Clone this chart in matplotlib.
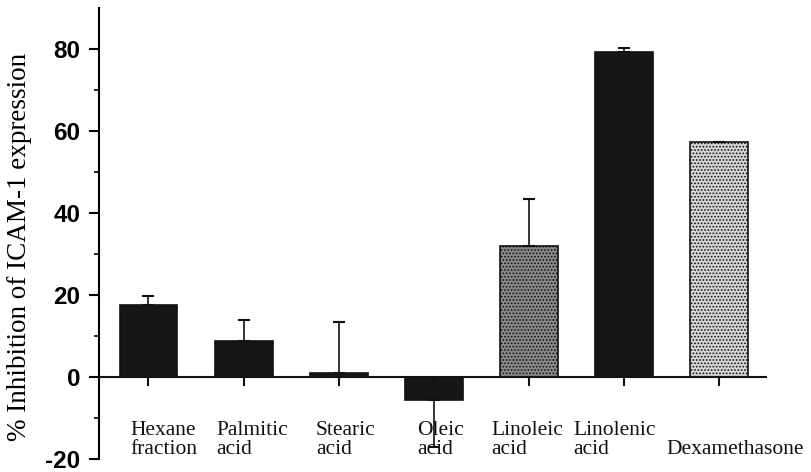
import matplotlib
matplotlib.use("Agg")
import matplotlib.pyplot as plt
import matplotlib.ticker as mticker
import numpy as np

# ── data ─────────────────────────────────────────────────────────────────────
CATEGORIES = ["Hexane\nfraction", "Palmitic\nacid", "Stearic\nacid", "Oleic\nacid",
              "Linoleic\nacid", "Linolenic\nacid", "\nDexamethasone"]
INHIBITION = [17.6, 8.9, 1.0, -5.6, 32.0, 79.4, 57.3]
ERR_UP     = [2.3, 5.0, 12.5, 0.0, 11.4, 0.8, 0.0]
ERR_DOWN   = [0.0, 0.0, 0.0, 11.4, 0.0, 0.0, 0.0]
BAR_COLORS = ["#161616", "#161616", "#161616", "#161616", "#8a8a8a", "#161616", "#d6d6d6"]
HATCHES    = [None, None, None, None, ".....", None, "....."]
LABEL_DX   = [-0.19, -0.29, -0.24, -0.17, -0.39, -0.53, -0.55]

SERIF = "Liberation Serif"
SANS  = "Liberation Sans"

plt.rcParams["axes.unicode_minus"] = False
plt.rcParams["hatch.color"] = "#4a4a4a"
plt.rcParams["hatch.linewidth"] = 0.8

fig = plt.figure(figsize=(8.12, 4.72), dpi=100)
ax = fig.add_axes([0.122, 0.0275, 0.823, 0.955])

x = np.arange(len(INHIBITION))
for i in x:
    ax.bar(x[i], INHIBITION[i], width=0.61, color=BAR_COLORS[i],
           edgecolor="#111111", linewidth=1.2, hatch=HATCHES[i], zorder=2)

ax.errorbar(x, INHIBITION, yerr=[ERR_DOWN, ERR_UP], fmt="none",
            ecolor="#111111", elinewidth=1.2, capsize=4, capthick=1.5, zorder=3)

# zero line acts as the x axis, with small ticks under each bar
ax.axhline(0, color="#111111", linewidth=1.5, zorder=4)
for xi in x:
    ax.plot([xi, xi], [0, -2.0], color="#111111", linewidth=1.5, zorder=4)

ax.set_xlim(-0.52, 6.51)
ax.set_ylim(-20, 90)
ax.spines["top"].set_visible(False)
ax.spines["right"].set_visible(False)
ax.spines["bottom"].set_visible(False)
ax.spines["left"].set_linewidth(1.5)

ax.set_xticks([])
ax.yaxis.set_major_locator(mticker.FixedLocator([-20, 0, 20, 40, 60, 80]))
ax.yaxis.set_minor_locator(mticker.FixedLocator([-10, 10, 30, 50, 70]))
ax.tick_params(axis="y", which="major", length=7.5, width=1.5, pad=6)
ax.tick_params(axis="y", which="minor", length=3.5, width=1.2)
for lab in ax.get_yticklabels():
    lab.set_fontfamily(SANS)
    lab.set_fontsize(17.5)
    lab.set_fontweight("bold")

ax.set_ylabel("% Inhibition of ICAM-1 expression", fontfamily=SERIF, fontsize=19.5)
ax.yaxis.set_label_coords(-0.100, 0.471)

for i, name in enumerate(CATEGORIES):
    ax.text(x[i] + LABEL_DX[i], -10.6, name, ha="left", va="top",
            fontfamily=SERIF, fontsize=15.5, linespacing=1.0, color="#111111")

fig.savefig("out.png", dpi=100)
